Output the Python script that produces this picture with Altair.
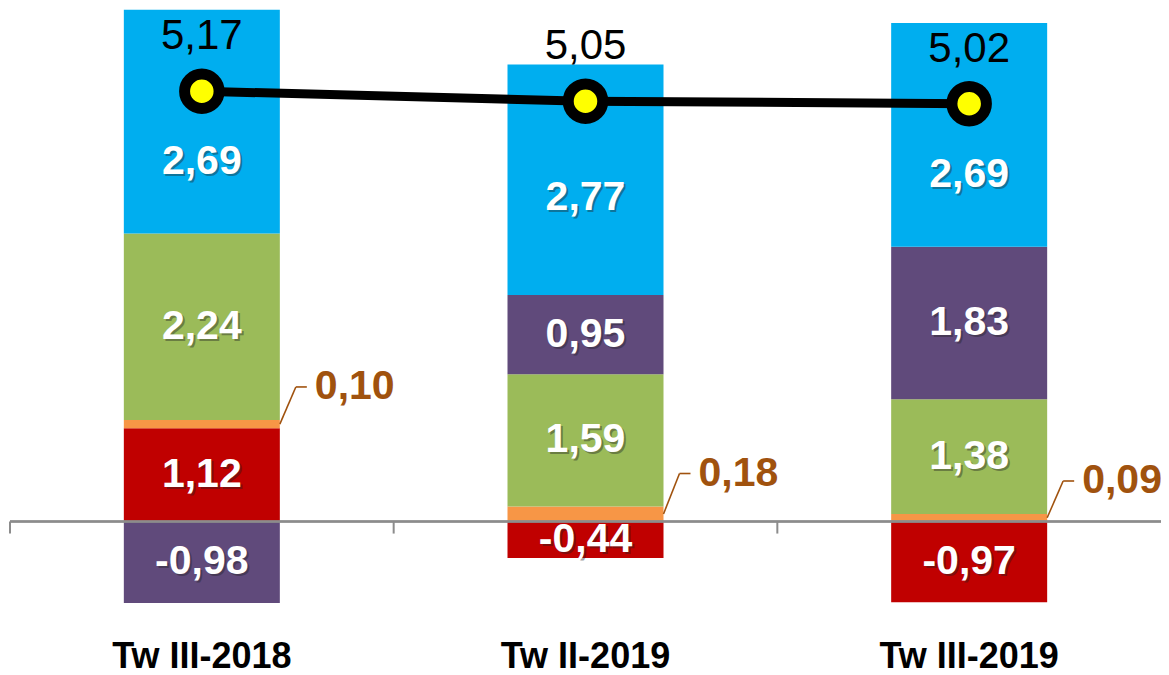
import altair as alt
import pandas as pd

# ---- data ----
categories = ["Tw III-2018", "Tw II-2019", "Tw III-2019"]
# stack order, bottom to top
series_names = ["Merah", "Oranye", "Hijau", "Ungu", "Biru"]
series_colors = ["#C00000", "#F79646", "#9BBB59", "#604A7B", "#00AEEF"]
red_values = [1.12, -0.44, -0.97]
orange_values = [0.10, 0.18, 0.09]
green_values = [2.24, 1.59, 1.38]
purple_values = [-0.98, 0.95, 1.83]
blue_values = [2.69, 2.77, 2.69]
total_values = [5.17, 5.05, 5.02]

series_values = [red_values, orange_values, green_values, purple_values, blue_values]
rows = []
for order, (name, vals) in enumerate(zip(series_names, series_values)):
    for cat, v, t in zip(categories, vals, total_values):
        rows.append({"cat": cat, "series": name, "order": order, "value": v, "total": t})
df = pd.DataFrame(rows)
tot = pd.DataFrame({"cat": categories, "total": total_values})

W, H = 1151, 630
BOLD = "Liberation Sans, Arial, sans-serif"
REG = "Liberation Sans, Arial, sans-serif"
BROWN = "#A0520E"
FMT = "replace(replace(format(datum.{f}, '.2f'), '.', ','), '\u2212', '-')"

ys = alt.Scale(domain=[-1.4, 6.17], nice=False, zero=False)
xs = alt.Scale(paddingInner=0, paddingOuter=0)
X = alt.X("cat:N", sort=categories, scale=xs, title=None,
          axis=alt.Axis(domain=False, ticks=False, tickSize=0, labelAngle=0,
                        labelFont=REG, labelFontSize=36, labelFontWeight="bold",
                        labelColor="black", labelPadding=29,
                        labelBaseline="alphabetic", grid=False))
Xn = alt.X("cat:N", sort=categories, scale=xs, title=None, bandPosition=0.5)

base = alt.Chart(df).transform_stack(
    stack="value", groupby=["cat"],
    sort=[alt.SortField("order", order="ascending")], as_=["v0", "v1"]
).transform_calculate(
    # top series label sits in the visible part of the segment, below the total line
    mid="datum.series == 'Biru' ? (datum.v0 + datum.total) / 2 : (datum.v0 + datum.v1) / 2",
    lbl=FMT.format(f="value"),
)

bars = base.mark_bar(size=156).encode(
    x=X,
    y=alt.Y("v0:Q", scale=ys, axis=None),
    y2="v1:Q",
    color=alt.Color("series:N", scale=alt.Scale(domain=series_names, range=series_colors), legend=None),
)

zero_line = alt.Chart(tot).mark_rule(color="#8C8C8C", strokeWidth=2).encode(
    y=alt.datum(0, scale=ys), x=alt.value(0), x2=alt.value(W)
)
ticks = alt.Chart(tot).mark_rule(color="#8C8C8C", strokeWidth=2).encode(
    x=alt.X("cat:N", sort=categories, scale=xs, title=None, bandPosition=0),
    y=alt.datum(0, scale=ys), y2=alt.datum(-0.145),
)

inner = base.transform_filter(alt.datum.series != "Oranye")
shadow = inner.mark_text(font=BOLD, fontSize=41, fontWeight="bold", color="#222222",
                         opacity=0.4, dx=2, dy=2, baseline="middle").encode(
    x=Xn, y=alt.Y("mid:Q", scale=ys), text="lbl:N")
seg_text = inner.mark_text(font=BOLD, fontSize=41, fontWeight="bold", color="white",
                           baseline="middle").encode(
    x=Xn, y=alt.Y("mid:Q", scale=ys), text="lbl:N")

orange = base.transform_filter(alt.datum.series == "Oranye")
lead_diag = orange.mark_rule(color=BROWN, strokeWidth=1.6, xOffset=78, x2Offset=94,
                             y2Offset=-33).encode(
    x=Xn, x2=alt.X2("cat", bandPosition=0.5), y=alt.Y("mid:Q", scale=ys), y2="v1:Q")
lead_h = orange.mark_rule(color=BROWN, strokeWidth=1.6, xOffset=94, x2Offset=105,
                          yOffset=-33).encode(
    x=Xn, x2=alt.X2("cat", bandPosition=0.5), y=alt.Y("v1:Q", scale=ys))
orange_text = orange.mark_text(font=BOLD, fontSize=41, fontWeight="bold", color=BROWN,
                               align="left", baseline="middle", dx=113, dy=-33).encode(
    x=Xn, y=alt.Y("v1:Q", scale=ys), text="lbl:N")

tline = alt.Chart(tot).mark_line(color="black", strokeWidth=9).encode(
    x=Xn, y=alt.Y("total:Q", scale=ys))
tpts = alt.Chart(tot).mark_point(shape="circle", filled=True, fill="#FFFF00", stroke="black",
                                 strokeWidth=11, size=1190, opacity=1).encode(
    x=Xn, y=alt.Y("total:Q", scale=ys))
ttext = alt.Chart(tot).transform_calculate(
    lbl=FMT.format(f="total")
).mark_text(font=REG, fontSize=42, color="black", baseline="middle", dy=-55).encode(
    x=Xn, y=alt.Y("total:Q", scale=ys), text="lbl:N")

chart = alt.layer(
    bars, zero_line, ticks, shadow, seg_text, lead_diag, lead_h, orange_text,
    tline, tpts, ttext
).properties(
    width=W, height=H,
    autosize=alt.AutoSizeParams(type="none"),
    padding={"left": 2, "top": 0, "right": 0, "bottom": 37},
    background="white",
).configure_view(stroke=None)

chart.save("out.html", embed_options={"renderer": "svg", "actions": False})
